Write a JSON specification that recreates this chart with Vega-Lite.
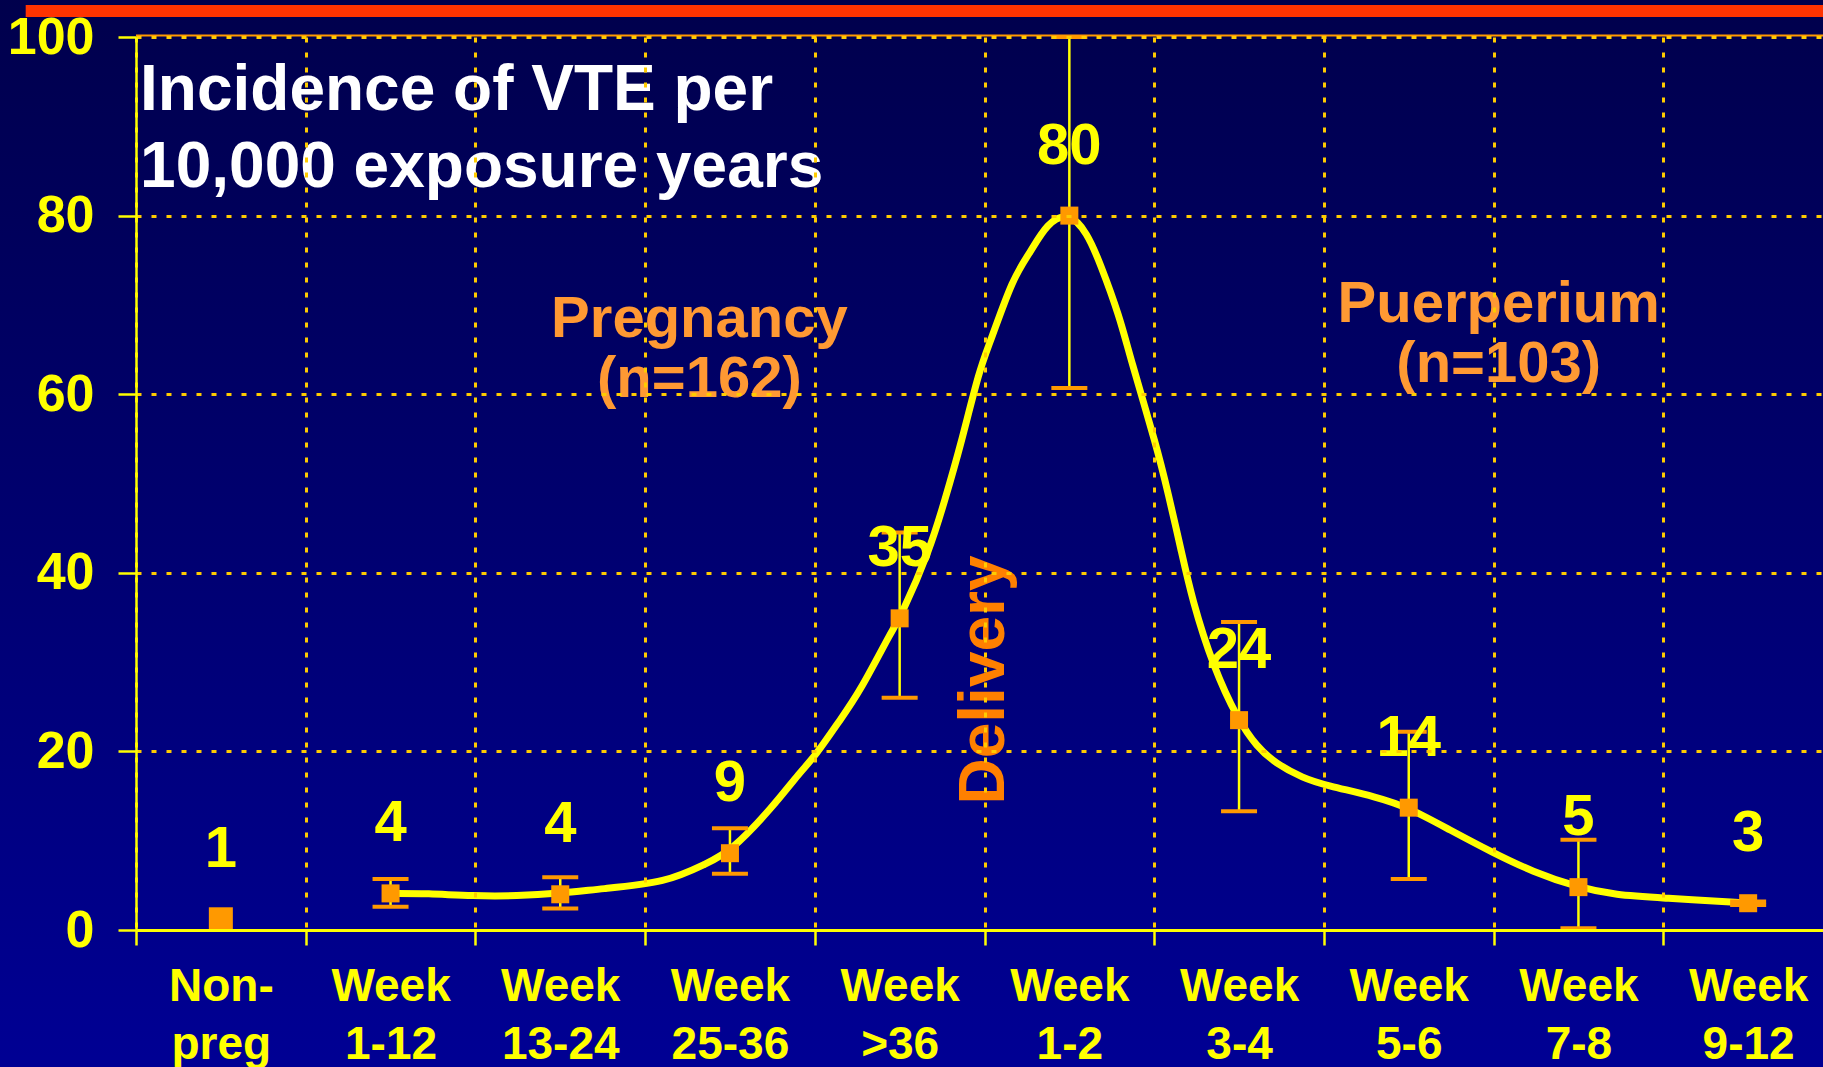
{
  "$schema": "https://vega.github.io/schema/vega-lite/v6.json",
  "width": 1687,
  "height": 893,
  "autosize": {"type": "none"},
  "padding": {"left": 136, "top": 37, "right": 0, "bottom": 137},
  "background": "#000070",
  "config": {
    "view": {"stroke": null},
    "font": "Liberation Sans",
    "axisY": {
      "labelFont": "Liberation Sans", "labelFontWeight": "bold", "labelFontSize": 52,
      "labelColor": "#FFFF00", "labelPadding": 24, "labelFlush": false, "labelOverlap": false,
      "tickColor": "#FFFF00", "tickSize": 18, "tickWidth": 2.5,
      "domainColor": "#FFFF00", "domainWidth": 2.5,
      "grid": true, "gridColor": "#FFCC00", "gridDash": [5, 10], "gridWidth": 3, "gridOpacity": 1
    }
  },
  "datasets": {
    "points": [
      {"cat": "Non- preg", "value": 1.2, "lower": null, "upper": null, "label": "1"},
      {"cat": "Week 1-12", "value": 4.1, "lower": 2.6, "upper": 5.7, "label": "4"},
      {"cat": "Week 13-24", "value": 4.0, "lower": 2.4, "upper": 5.9, "label": "4"},
      {"cat": "Week 25-36", "value": 8.6, "lower": 6.3, "upper": 11.4, "label": "9"},
      {"cat": "Week >36", "value": 34.9, "lower": 26.0, "upper": 44.5, "label": "35"},
      {"cat": "Week 1-2", "value": 80, "lower": 60.7, "upper": 100, "label": "80"},
      {"cat": "Week 3-4", "value": 23.5, "lower": 13.3, "upper": 34.5, "label": "24"},
      {"cat": "Week 5-6", "value": 13.7, "lower": 5.7, "upper": 22.2, "label": "14"},
      {"cat": "Week 7-8", "value": 4.8, "lower": 0.2, "upper": 10.1, "label": "5"},
      {"cat": "Week 9-12", "value": 3.0, "lower": 2.8, "upper": 3.2, "label": "3"}
    ],
    "curve": [
      {"t": 1.509, "v": 4.1}, {"t": 1.715, "v": 4.1}, {"t": 1.986, "v": 3.8},
      {"t": 2.245, "v": 3.8}, {"t": 2.498, "v": 4.1}, {"t": 2.734, "v": 4.6},
      {"t": 3.129, "v": 5.3}, {"t": 3.365, "v": 7.5}, {"t": 3.5, "v": 8.7},
      {"t": 3.754, "v": 13.8}, {"t": 3.913, "v": 17.7}, {"t": 4.0, "v": 19.4},
      {"t": 4.148, "v": 23.5}, {"t": 4.266, "v": 26.7}, {"t": 4.461, "v": 33.8},
      {"t": 4.502, "v": 34.9}, {"t": 4.679, "v": 42.6}, {"t": 4.767, "v": 48.2},
      {"t": 4.856, "v": 54.0}, {"t": 4.973, "v": 63.0}, {"t": 5.032, "v": 65.7},
      {"t": 5.168, "v": 73.1}, {"t": 5.268, "v": 75.8}, {"t": 5.368, "v": 79.2},
      {"t": 5.5, "v": 80.4}, {"t": 5.604, "v": 78.1}, {"t": 5.681, "v": 74.7},
      {"t": 5.798, "v": 68.6}, {"t": 5.857, "v": 64.2}, {"t": 6.017, "v": 54.0},
      {"t": 6.081, "v": 49.0}, {"t": 6.158, "v": 42.6}, {"t": 6.223, "v": 37.0},
      {"t": 6.347, "v": 29.5}, {"t": 6.494, "v": 23.5}, {"t": 6.606, "v": 20.5},
      {"t": 6.712, "v": 18.7}, {"t": 6.877, "v": 17.0}, {"t": 7.012, "v": 16.2},
      {"t": 7.313, "v": 14.9}, {"t": 7.501, "v": 13.7}, {"t": 7.743, "v": 11.2},
      {"t": 7.991, "v": 8.7}, {"t": 8.232, "v": 6.5}, {"t": 8.491, "v": 4.8},
      {"t": 8.721, "v": 3.9}, {"t": 8.992, "v": 3.6}, {"t": 9.499, "v": 3.0},
      {"t": 9.54, "v": 3.0}
    ]
  },
  "layer": [
    {
      "data": {"values": [{}]},
      "mark": {"type": "rect", "color": {"gradient": "linear", "x1": 0, "y1": 0, "x2": 0, "y2": 1, "stops": [{"offset": 0, "color": "#00004C"}, {"offset": 1, "color": "#000094"}]}},
      "encoding": {
        "x": {"datum": -0.9, "type": "quantitative", "scale": {"domain": [0, 10], "range": [0, 1697], "nice": false, "zero": false}, "axis": null},
        "x2": {"datum": 10.5},
        "y": {"datum": -16, "type": "quantitative", "title": null, "scale": {"domain": [0, 100], "nice": false}},
        "y2": {"datum": 104.5}
      }
    },
    {
      "data": {"values": [{}]},
      "mark": {"type": "rule", "color": "#FF3300", "strokeWidth": 12},
      "encoding": {
        "x": {"datum": -0.65, "type": "quantitative", "scale": {"domain": [0, 10], "range": [0, 1697], "nice": false, "zero": false}, "axis": null},
        "x2": {"datum": 10.5},
        "y": {"datum": 102.9, "type": "quantitative", "title": null, "scale": {"domain": [0, 100], "nice": false}}
      }
    },
    {
      "data": {"values": [{}]},
      "mark": {"type": "rule", "color": "#FF9900", "strokeWidth": 2},
      "encoding": {
        "x": {"datum": 0, "type": "quantitative", "scale": {"domain": [0, 10], "range": [0, 1697], "nice": false, "zero": false}, "axis": null},
        "x2": {"datum": 10.5},
        "y": {"datum": 100.17, "type": "quantitative", "title": null, "scale": {"domain": [0, 100], "nice": false}}
      }
    },
    {
      "data": {"values": [{}]},
      "mark": {"type": "text", "align": "left", "baseline": "alphabetic", "font": "Liberation Sans", "fontWeight": "bold", "fontSize": 64, "lineHeight": 77, "color": "#FFFFFF"},
      "encoding": {
        "x": {"datum": 0.024, "type": "quantitative", "scale": {"domain": [0, 10], "range": [0, 1697], "nice": false, "zero": false}, "axis": null},
        "y": {"datum": 91.8, "type": "quantitative", "title": null, "scale": {"domain": [0, 100], "nice": false}},
        "text": {"value": ["Incidence of VTE per", "10,000 exposure years"]}
      }
    },
    {
      "data": {"values": [{}]},
      "mark": {"type": "text", "align": "center", "baseline": "alphabetic", "font": "Liberation Sans", "fontWeight": "bold", "fontSize": 58, "lineHeight": 60, "color": "#FF9933"},
      "encoding": {
        "x": {"datum": 3.32, "type": "quantitative", "scale": {"domain": [0, 10], "range": [0, 1697], "nice": false, "zero": false}, "axis": null},
        "y": {"datum": 66.4, "type": "quantitative", "title": null, "scale": {"domain": [0, 100], "nice": false}},
        "text": {"value": ["Pregnancy", "(n=162)"]}
      }
    },
    {
      "data": {"values": [{}]},
      "mark": {"type": "text", "align": "center", "baseline": "alphabetic", "font": "Liberation Sans", "fontWeight": "bold", "fontSize": 58, "lineHeight": 60, "color": "#FF9933"},
      "encoding": {
        "x": {"datum": 8.03, "type": "quantitative", "scale": {"domain": [0, 10], "range": [0, 1697], "nice": false, "zero": false}, "axis": null},
        "y": {"datum": 68.1, "type": "quantitative", "title": null, "scale": {"domain": [0, 100], "nice": false}},
        "text": {"value": ["Puerperium", "(n=103)"]}
      }
    },
    {
      "data": {"values": [{}]},
      "mark": {"type": "text", "align": "center", "baseline": "middle", "angle": 270, "font": "Liberation Sans", "fontWeight": "bold", "fontSize": 64, "color": "#FF8000"},
      "encoding": {
        "x": {"datum": 5.0, "type": "quantitative", "scale": {"domain": [0, 10], "range": [0, 1697], "nice": false, "zero": false}, "axis": null},
        "y": {"datum": 28.0, "type": "quantitative", "title": null, "scale": {"domain": [0, 100], "nice": false}},
        "text": {"value": "Delivery"}
      }
    },
    {
      "data": {"name": "curve"},
      "mark": {"type": "line", "interpolate": "basis", "color": "#FFFF00", "strokeWidth": 7, "strokeJoin": "round"},
      "encoding": {
        "x": {"field": "t", "type": "quantitative", "scale": {"domain": [0, 10], "range": [0, 1697], "nice": false, "zero": false}, "axis": null},
        "y": {"field": "v", "type": "quantitative", "title": null, "scale": {"domain": [0, 100], "nice": false}}
      }
    },
    {
      "data": {"name": "points"},
      "transform": [{"filter": "datum.lower != null"}],
      "mark": {"type": "rule", "color": "#FFFF00", "strokeWidth": 2.5},
      "encoding": {
        "x": {"field": "cat", "type": "nominal", "scale": {"type": "band", "domain": ["Non- preg", "Week 1-12", "Week 13-24", "Week 25-36", "Week >36", "Week 1-2", "Week 3-4", "Week 5-6", "Week 7-8", "Week 9-12"], "paddingInner": 0, "paddingOuter": 0, "range": [0, 1697]}, "axis": null},
        "y": {"field": "lower", "type": "quantitative", "title": null, "scale": {"domain": [0, 100], "nice": false}},
        "y2": {"field": "upper"}
      }
    },
    {
      "data": {"name": "points"},
      "transform": [{"filter": "datum.lower != null"}],
      "mark": {"type": "tick", "orient": "horizontal", "size": 36, "thickness": 4, "color": "#FF9900", "opacity": 1},
      "encoding": {
        "x": {"field": "cat", "type": "nominal", "scale": {"type": "band", "domain": ["Non- preg", "Week 1-12", "Week 13-24", "Week 25-36", "Week >36", "Week 1-2", "Week 3-4", "Week 5-6", "Week 7-8", "Week 9-12"], "paddingInner": 0, "paddingOuter": 0, "range": [0, 1697]}, "axis": null},
        "y": {"field": "lower", "type": "quantitative", "title": null, "scale": {"domain": [0, 100], "nice": false}}
      }
    },
    {
      "data": {"name": "points"},
      "transform": [{"filter": "datum.upper != null"}],
      "mark": {"type": "tick", "orient": "horizontal", "size": 36, "thickness": 4, "color": "#FF9900", "opacity": 1},
      "encoding": {
        "x": {"field": "cat", "type": "nominal", "scale": {"type": "band", "domain": ["Non- preg", "Week 1-12", "Week 13-24", "Week 25-36", "Week >36", "Week 1-2", "Week 3-4", "Week 5-6", "Week 7-8", "Week 9-12"], "paddingInner": 0, "paddingOuter": 0, "range": [0, 1697]}, "axis": null},
        "y": {"field": "upper", "type": "quantitative", "title": null, "scale": {"domain": [0, 100], "nice": false}}
      }
    },
    {
      "data": {"name": "points"},
      "mark": {"type": "square", "filled": true, "color": "#FF9900", "opacity": 1},
      "encoding": {
        "x": {
          "field": "cat", "type": "nominal",
          "scale": {"type": "band", "domain": ["Non- preg", "Week 1-12", "Week 13-24", "Week 25-36", "Week >36", "Week 1-2", "Week 3-4", "Week 5-6", "Week 7-8", "Week 9-12"], "paddingInner": 0, "paddingOuter": 0, "range": [0, 1697]},
          "axis": {
            "orient": "bottom", "title": null, "labelAngle": 0, "labelExpr": "split(datum.label, ' ')",
            "labelFont": "Liberation Sans", "labelFontWeight": "bold", "labelFontSize": 46, "labelLineHeight": 58,
            "labelColor": "#FFFF00", "labelPadding": 19, "labelOverlap": false, "labelLimit": 0,
            "tickBand": "extent", "ticks": true, "tickColor": "#FFFF00", "tickSize": 15, "tickWidth": 2.5,
            "domainColor": "#FFFF00", "domainWidth": 3,
            "grid": true, "gridColor": "#FFCC00", "gridDash": [5, 10], "gridWidth": 3, "gridOpacity": 1,
            "zindex": 1
          }
        },
        "y": {
          "field": "value", "type": "quantitative", "title": null, "scale": {"domain": [0, 100], "nice": false},
          "axis": {
            "orient": "left", "title": null, "values": [0, 20, 40, 60, 80, 100],
            "labelFont": "Liberation Sans", "labelFontWeight": "bold", "labelFontSize": 52,
            "labelColor": "#FFFF00", "labelPadding": 24, "labelFlush": false, "labelOverlap": false,
            "tickColor": "#FFFF00", "tickSize": 18, "tickWidth": 2.5,
            "domainColor": "#FFFF00", "domainWidth": 2.5,
            "grid": true, "gridColor": "#FFCC00", "gridDash": [5, 10], "gridWidth": 3, "gridOpacity": 1,
            "zindex": 1
          }
        },
        "size": {"condition": {"test": "datum.cat === 'Non- preg'", "value": 576}, "value": 324}
      }
    },
    {
      "data": {"name": "points"},
      "mark": {"type": "text", "align": "center", "baseline": "alphabetic", "dy": -52, "font": "Liberation Sans", "fontWeight": "bold", "fontSize": 58, "color": "#FFFF00"},
      "encoding": {
        "x": {"field": "cat", "type": "nominal", "scale": {"type": "band", "domain": ["Non- preg", "Week 1-12", "Week 13-24", "Week 25-36", "Week >36", "Week 1-2", "Week 3-4", "Week 5-6", "Week 7-8", "Week 9-12"], "paddingInner": 0, "paddingOuter": 0, "range": [0, 1697]}, "axis": null},
        "y": {"field": "value", "type": "quantitative", "title": null, "scale": {"domain": [0, 100], "nice": false}},
        "text": {"field": "label"}
      }
    }
  ],
  "resolve": {"scale": {"x": "independent"}}
}
